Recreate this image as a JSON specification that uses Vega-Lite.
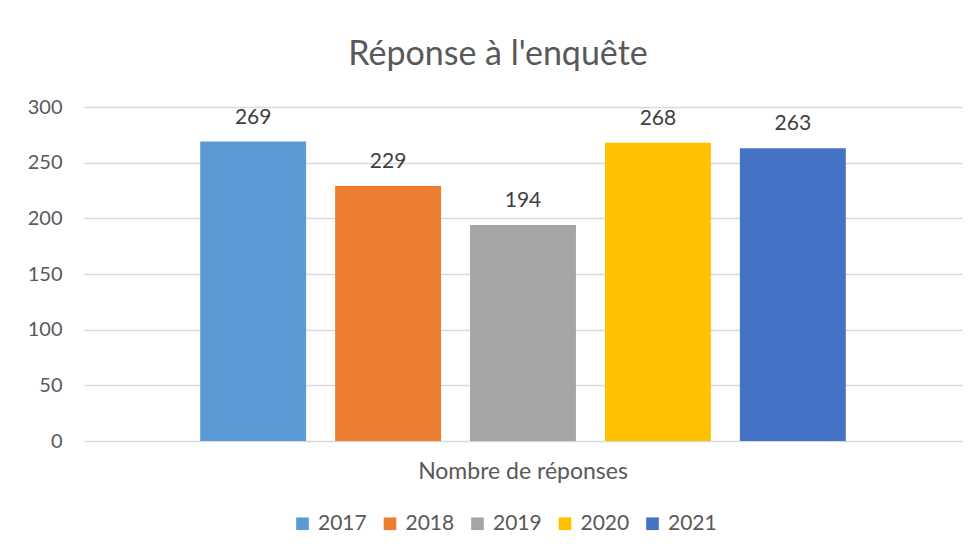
{
  "$schema": "https://vega.github.io/schema/vega-lite/v6.json",
  "autosize": "none",
  "width": 878,
  "height": 334,
  "padding": {"left": 84, "top": 107, "right": 17, "bottom": 118},
  "background": "white",
  "title": {
    "text": "Réponse à l'enquête",
    "font": "Lato",
    "fontSize": 34,
    "fontWeight": "normal",
    "color": "#595959",
    "anchor": "middle",
    "dx": -25,
    "offset": 25
  },
  "data": {
    "values": [
      {"categorie": "Nombre de réponses", "annee": "2017", "reponses": 269},
      {"categorie": "Nombre de réponses", "annee": "2018", "reponses": 229},
      {"categorie": "Nombre de réponses", "annee": "2019", "reponses": 194},
      {"categorie": "Nombre de réponses", "annee": "2020", "reponses": 268},
      {"categorie": "Nombre de réponses", "annee": "2021", "reponses": 263}
    ]
  },
  "encoding": {
    "x": {
      "field": "categorie",
      "type": "nominal",
      "scale": {"paddingInner": 0, "paddingOuter": 0.18},
      "axis": {
        "title": null,
        "labelAngle": 0,
        "labelLimit": 0,
        "labelFont": "Lato",
        "labelFontSize": 23,
        "labelColor": "#595959",
        "labelPadding": 19,
        "ticks": false,
        "domain": false
      }
    },
    "xOffset": {
      "field": "annee",
      "type": "nominal",
      "scale": {"paddingInner": 0.215, "paddingOuter": 0}
    },
    "y": {
      "field": "reponses",
      "type": "quantitative",
      "scale": {"domain": [0, 300]},
      "axis": {
        "title": null,
        "values": [0, 50, 100, 150, 200, 250, 300],
        "labelFont": "Lato",
        "labelFontSize": 20,
        "labelColor": "#595959",
        "labelPadding": 22,
        "ticks": false,
        "domain": false,
        "grid": true,
        "gridColor": "#D9D9D9",
        "gridWidth": 1.5
      }
    }
  },
  "layer": [
    {
      "mark": {"type": "bar"},
      "encoding": {
        "color": {
          "field": "annee",
          "type": "nominal",
          "scale": {
            "domain": ["2017", "2018", "2019", "2020", "2021"],
            "range": ["#5B9BD5", "#ED7D31", "#A5A5A5", "#FFC000", "#4472C4"]
          },
          "legend": {
            "title": null,
            "orient": "none",
            "direction": "horizontal",
            "legendX": 208,
            "legendY": 406,
            "symbolType": "square",
            "symbolSize": 160,
            "symbolStrokeWidth": 0,
            "labelFont": "Lato",
            "labelFontSize": 21,
            "labelColor": "#595959",
            "labelOffset": 5,
            "columnPadding": 12.5
          }
        }
      }
    },
    {
      "mark": {
        "type": "text",
        "baseline": "bottom",
        "dy": -14,
        "font": "Lato",
        "fontSize": 21,
        "color": "#404040"
      },
      "encoding": {
        "text": {"field": "reponses", "type": "quantitative"}
      }
    }
  ],
  "config": {
    "view": {"stroke": null}
  }
}
